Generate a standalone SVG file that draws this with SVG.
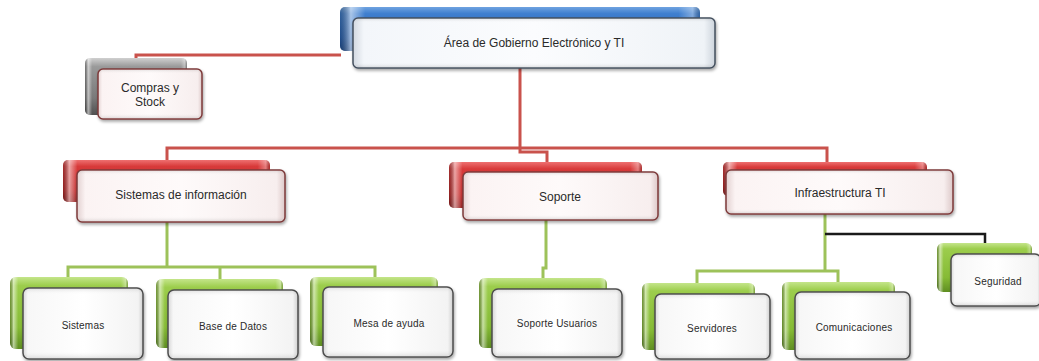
<svg xmlns="http://www.w3.org/2000/svg" width="1039" height="361" viewBox="0 0 1039 361">
<defs>
<linearGradient id="gBlue" x1="0" y1="0" x2="0" y2="1">
<stop offset="0" stop-color="#6fa3e0"/><stop offset="0.15" stop-color="#3f7fcf"/><stop offset="0.7" stop-color="#2a66b8"/><stop offset="1" stop-color="#1d4f95"/>
</linearGradient>
<linearGradient id="gRed" x1="0" y1="0" x2="0" y2="1">
<stop offset="0" stop-color="#ee7070"/><stop offset="0.15" stop-color="#d83a3a"/><stop offset="0.7" stop-color="#c42828"/><stop offset="1" stop-color="#951b1b"/>
</linearGradient>
<linearGradient id="gGreen" x1="0" y1="0" x2="0" y2="1">
<stop offset="0" stop-color="#c4e58a"/><stop offset="0.12" stop-color="#9ccd4c"/><stop offset="0.7" stop-color="#86bb35"/><stop offset="1" stop-color="#5f8e22"/>
</linearGradient>
<linearGradient id="gGray" x1="0" y1="0" x2="0" y2="1">
<stop offset="0" stop-color="#d0d0d0"/><stop offset="0.15" stop-color="#9a9a9a"/><stop offset="0.7" stop-color="#7a7a7a"/><stop offset="1" stop-color="#505050"/>
</linearGradient>
<linearGradient id="gGloss" x1="0" y1="0" x2="1" y2="0">
<stop offset="0" stop-color="#000" stop-opacity="0.25"/><stop offset="0.03" stop-color="#fff" stop-opacity="0.55"/><stop offset="0.07" stop-color="#fff" stop-opacity="0"/><stop offset="0.94" stop-color="#fff" stop-opacity="0"/><stop offset="0.98" stop-color="#fff" stop-opacity="0.35"/><stop offset="1" stop-color="#000" stop-opacity="0.2"/>
</linearGradient>
<linearGradient id="gFront" x1="0" y1="0" x2="1" y2="0">
<stop offset="0" stop-color="#d6d6d6"/><stop offset="0.04" stop-color="#f7f7f7"/><stop offset="0.5" stop-color="#ffffff"/><stop offset="0.96" stop-color="#f3f3f3"/><stop offset="1" stop-color="#cfcfcf"/>
</linearGradient>
<linearGradient id="gFrontR" x1="0" y1="0" x2="1" y2="0">
<stop offset="0" stop-color="#e2d0d0"/><stop offset="0.04" stop-color="#fbf3f3"/><stop offset="0.5" stop-color="#fefafa"/><stop offset="0.96" stop-color="#f7eeee"/><stop offset="1" stop-color="#dcc8c8"/>
</linearGradient>
<linearGradient id="gFrontB" x1="0" y1="0" x2="1" y2="0">
<stop offset="0" stop-color="#d2d8e0"/><stop offset="0.03" stop-color="#f3f6fa"/><stop offset="0.5" stop-color="#fbfcfe"/><stop offset="0.97" stop-color="#eff3f7"/><stop offset="1" stop-color="#cdd4dc"/>
</linearGradient>
<linearGradient id="gBevel" x1="0" y1="0" x2="0" y2="1">
<stop offset="0" stop-color="#000" stop-opacity="0.08"/><stop offset="0.08" stop-color="#fff" stop-opacity="0"/><stop offset="0.9" stop-color="#fff" stop-opacity="0"/><stop offset="1" stop-color="#000" stop-opacity="0.1"/>
</linearGradient>
<filter id="sh" x="-10%" y="-10%" width="125%" height="135%">
<feDropShadow dx="1" dy="2" stdDeviation="1.5" flood-color="#000" flood-opacity="0.35"/>
</filter>
</defs>
<style>
.bk{stroke:none}
.gl{fill:url(#gGloss)}
.fr{fill:url(#gFront);stroke:#4d4d4d;stroke-width:1.5;filter:url(#sh)}
.frR{fill:url(#gFrontR);stroke:#7d3a3a;stroke-width:1.5;filter:url(#sh)}
.frB{fill:url(#gFrontB);stroke:#44505e;stroke-width:1.5;filter:url(#sh)}
.bv{fill:url(#gBevel);stroke:none}
.t{font-family:"Liberation Sans",Arial,sans-serif;fill:#2a2a2a;text-anchor:middle}
.t12{font-size:12px}
.t10{font-size:10px;letter-spacing:0.2px}
.cr{fill:none;stroke:#c9524c;stroke-width:3}
.cg{fill:none;stroke:#9dc25a;stroke-width:3}
.ck{fill:none;stroke:#1a1a1a;stroke-width:2.5}
</style>
<g id="connectors">
<path class="cr" d="M136,59 V55 H341"/>
<path class="cr" d="M520,68 V152 H547 V163"/>
<path class="cr" d="M167,161 V148 H827 V163"/>
<path class="cg" d="M167,222 V267"/>
<path class="cg" d="M68,278 V267 H375 V278"/>
<path class="cg" d="M220,267 V280"/>
<path class="cg" d="M546,220 V268 H543 V279"/>
<path class="cg" d="M825,214 V271"/>
<path class="cg" d="M697,284 V271 H838 V283"/>
<path class="ck" d="M825,234 H985 V244"/>
</g>
<g id="node-top">
<rect class="bk" x="340" y="7" width="360" height="44" rx="5" fill="url(#gBlue)"/>
<rect class="gl" x="340" y="7" width="360" height="44" rx="5"/>
<rect class="frB" x="353" y="18" width="362" height="50" rx="5"/>
<rect class="bv" x="354" y="19" width="360" height="48" rx="4"/>
<text class="t t12" x="534" y="47">Área de Gobierno Electrónico y TI</text>
</g>
<g id="node-compras">
<rect class="bk" x="85" y="58" width="102" height="57" rx="5" fill="url(#gGray)"/>
<rect class="gl" x="85" y="58" width="102" height="57" rx="5"/>
<rect class="frR" x="98" y="69" width="104" height="50" rx="5"/>
<rect class="bv" x="99" y="70" width="102" height="48" rx="4"/>
<text class="t t12" x="150" y="92">Compras y</text>
<text class="t t12" x="150" y="106">Stock</text>
</g>
<g id="node-sistinfo">
<rect class="bk" x="63" y="160" width="207" height="42" rx="5" fill="url(#gRed)"/>
<rect class="gl" x="63" y="160" width="207" height="42" rx="5"/>
<rect class="frR" x="77" y="170" width="208" height="52" rx="5"/>
<rect class="bv" x="78" y="171" width="206" height="50" rx="4"/>
<text class="t t12" x="181" y="199">Sistemas de información</text>
</g>
<g id="node-soporte">
<rect class="bk" x="449" y="162" width="193" height="46" rx="5" fill="url(#gRed)"/>
<rect class="gl" x="449" y="162" width="193" height="46" rx="5"/>
<rect class="frR" x="463" y="172" width="195" height="48" rx="5"/>
<rect class="bv" x="464" y="173" width="193" height="46" rx="4"/>
<text class="t t12" x="560" y="201">Soporte</text>
</g>
<g id="node-infra">
<rect class="bk" x="723" y="162" width="204" height="34" rx="5" fill="url(#gRed)"/>
<rect class="gl" x="723" y="162" width="204" height="34" rx="5"/>
<rect class="frR" x="726" y="170" width="227" height="44" rx="5"/>
<rect class="bv" x="727" y="171" width="225" height="42" rx="4"/>
<text class="t t12" x="840" y="197">Infraestructura TI</text>
</g>
<g id="node-sistemas">
<rect class="bk" x="10" y="277" width="118" height="72" rx="6" fill="url(#gGreen)"/>
<rect class="gl" x="10" y="277" width="118" height="72" rx="6"/>
<rect class="fr" x="23" y="288" width="120" height="71" rx="6"/>
<rect class="bv" x="24" y="289" width="118" height="69" rx="5"/>
<text class="t t10" x="83" y="329">Sistemas</text>
</g>
<g id="node-basedatos">
<rect class="bk" x="156" y="279" width="127" height="69" rx="6" fill="url(#gGreen)"/>
<rect class="gl" x="156" y="279" width="127" height="69" rx="6"/>
<rect class="fr" x="168" y="290" width="130" height="69" rx="6"/>
<rect class="bv" x="169" y="291" width="128" height="67" rx="5"/>
<text class="t t10" x="233" y="330">Base de Datos</text>
</g>
<g id="node-mesa">
<rect class="bk" x="310" y="277" width="128" height="69" rx="6" fill="url(#gGreen)"/>
<rect class="gl" x="310" y="277" width="128" height="69" rx="6"/>
<rect class="fr" x="323" y="287" width="130" height="70" rx="6"/>
<rect class="bv" x="324" y="288" width="128" height="68" rx="5"/>
<text class="t t10" x="389" y="327">Mesa de ayuda</text>
</g>
<g id="node-sopusu">
<rect class="bk" x="479" y="278" width="128" height="70" rx="6" fill="url(#gGreen)"/>
<rect class="gl" x="479" y="278" width="128" height="70" rx="6"/>
<rect class="fr" x="492" y="289" width="130" height="68" rx="6"/>
<rect class="bv" x="493" y="290" width="128" height="66" rx="5"/>
<text class="t t10" x="557" y="327">Soporte Usuarios</text>
</g>
<g id="node-servidores">
<rect class="bk" x="642" y="283" width="113" height="67" rx="6" fill="url(#gGreen)"/>
<rect class="gl" x="642" y="283" width="113" height="67" rx="6"/>
<rect class="fr" x="655" y="294" width="115" height="65" rx="6"/>
<rect class="bv" x="656" y="295" width="113" height="63" rx="5"/>
<text class="t t10" x="712" y="332">Servidores</text>
</g>
<g id="node-comunic">
<rect class="bk" x="782" y="282" width="113" height="68" rx="6" fill="url(#gGreen)"/>
<rect class="gl" x="782" y="282" width="113" height="68" rx="6"/>
<rect class="fr" x="795" y="292" width="115" height="67" rx="6"/>
<rect class="bv" x="796" y="293" width="113" height="65" rx="5"/>
<text class="t t10" x="854" y="331">Comunicaciones</text>
</g>
<g id="node-seguridad">
<rect class="bk" x="937" y="243" width="95" height="49" rx="6" fill="url(#gGreen)"/>
<rect class="gl" x="937" y="243" width="95" height="49" rx="6"/>
<rect class="fr" x="951" y="254" width="90" height="52" rx="6"/>
<rect class="bv" x="952" y="255" width="88" height="50" rx="5"/>
<text class="t t10" x="998" y="285">Seguridad</text>
</g>
</svg>
